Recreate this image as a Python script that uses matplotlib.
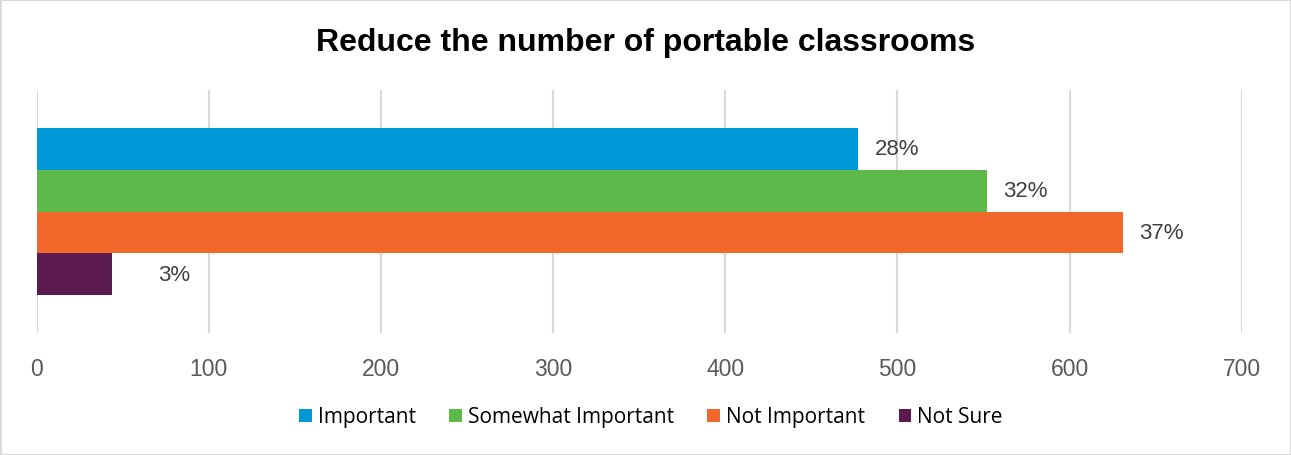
import matplotlib.pyplot as plt
from matplotlib.patches import Patch

categories = ['Important', 'Somewhat Important', 'Not Important', 'Not Sure']
counts = [477, 552, 631, 44]
pct_labels = ['28%', '32%', '37%', '3%']
colors = ['#0098d6', '#5dba4a', '#f1682a', '#5a1a4e']
x_ticks = [0, 100, 200, 300, 400, 500, 600, 700]

plt.rcParams['font.family'] = ['Liberation Sans', 'DejaVu Sans']

fig = plt.figure(figsize=(12.91, 4.56), dpi=100)
fig.patch.set_edgecolor('#d9d9d9')
fig.patch.set_linewidth(2)

W, H = 1291, 456
ax = fig.add_axes([36.5 / W, (H - 334) / H, (1241.7 - 36.5) / W, (334 - 91) / H])

pos = list(range(len(categories)))
ax.barh(pos, counts, height=1.0, color=colors, zorder=2)

# label offsets in points (Not Sure label sits further out in the original)
offsets = [12, 12, 12, 33]
for p, v, lab, off in zip(pos, counts, pct_labels, offsets):
    ax.annotate(lab, (v, p), xytext=(off, 0), textcoords='offset points',
                va='center', ha='left', fontsize=16, color='#404040')

ax.set_xlim(0, 700)
ax.set_ylim(4.41, -1.41)
ax.set_xticks(x_ticks)
ax.set_yticks([])
ax.tick_params(axis='x', length=0, pad=17, labelsize=16.5, labelcolor='#595959')
ax.grid(axis='x', color='#d9d9d9', linewidth=1.5, zorder=0)
for s in ax.spines.values():
    s.set_visible(False)

fig.text(0.5, (H - 43) / H, 'Reduce the number of portable classrooms',
         ha='center', va='center', fontsize=23, fontweight='bold', color='black')

handles = [Patch(facecolor=c, edgecolor='none') for c in colors]
fig.legend(handles, categories, loc='center', bbox_to_anchor=(651 / W, (H - 418) / H),
           ncol=4, frameon=False, handlelength=0.6, handleheight=0.6,
           handletextpad=0.3, columnspacing=1.6,
           prop={'family': 'Open Sans', 'size': 15})

fig.savefig('out.png', dpi=100)
